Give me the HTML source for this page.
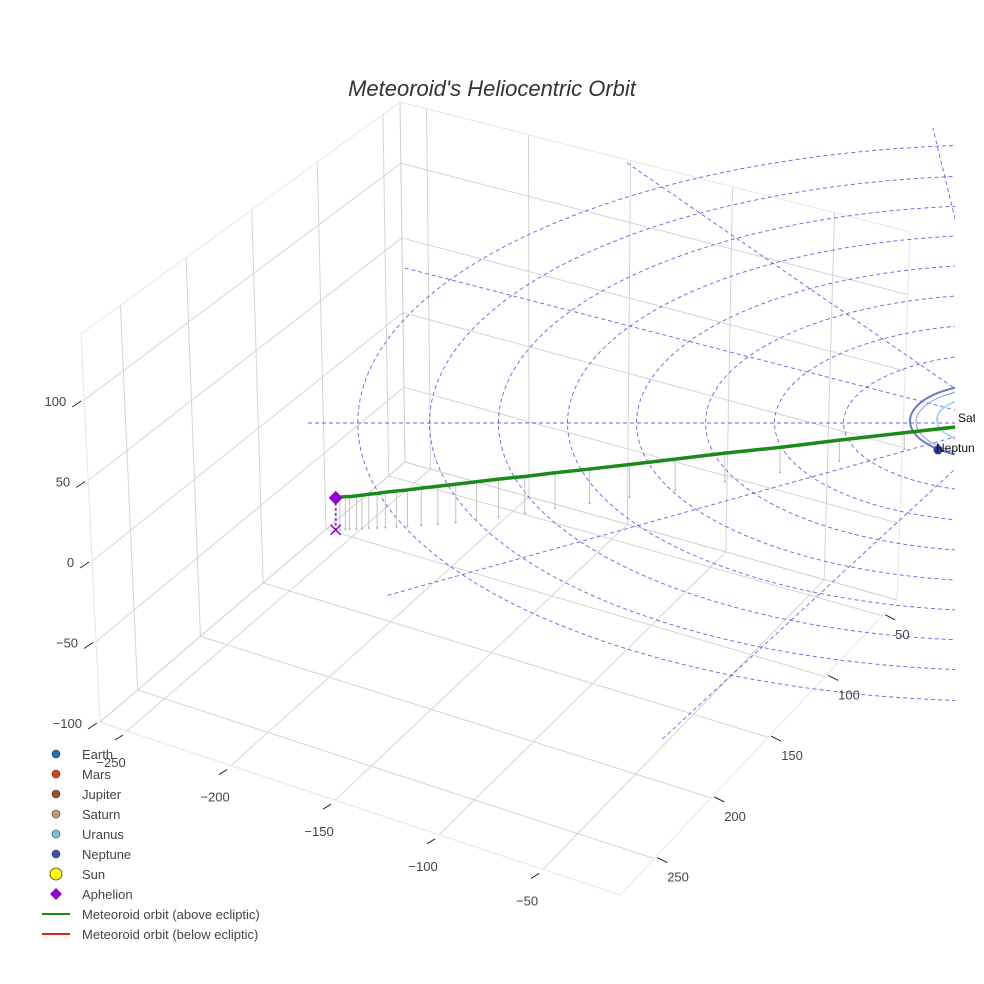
<!DOCTYPE html>
<html><head><meta charset="utf-8"><style>
html,body{margin:0;padding:0;background:#fff;}
svg{display:block;font-family:"Liberation Sans",sans-serif;}
</style></head><body>
<svg id="chart" width="984" height="984" viewBox="0 0 984 984" xmlns="http://www.w3.org/2000/svg">
<defs><clipPath id="sceneClip"><rect x="0" y="60" width="955" height="860"/></clipPath>
<clipPath id="labelClip"><rect x="0" y="0" width="975" height="984"/></clipPath></defs>
<rect width="984" height="984" fill="#fff"/>
<text x="492" y="96" text-anchor="middle" font-size="22" font-style="italic" fill="#333">Meteoroid's Heliocentric Orbit</text>
<g id="grid"></g>
<g id="rings" clip-path="url(#sceneClip)"></g>
<g id="planets" clip-path="url(#sceneClip)"></g>
<g id="orbit" clip-path="url(#sceneClip)"></g>
<g id="ticks"></g>
<g id="legend"></g>
</svg>
<script>
// axis tick values
const xTicks = [50, 100, 150, 200, 250];
const yTicks = [-250, -200, -150, -100, -50];
const zTicks = [-100, -50, 0, 50, 100];
// ecliptic reference ring radii (AU-like units)
const ringRadii = [117, 167, 217, 267, 317, 367, 417, 469];
// ecliptic reference spokes: angle (deg) and length
const spokeAngles = [0, -31, -58, -84, 33, 65];
const spokeLengths = [505, 509, 520, 500, 535, 589];
// meteoroid orbit points (ecliptic frame): ex, ey, ez
const orbitEx = [485, 482, 478, 475, 470, 466, 461, 455, 449, 441, 433, 423, 411, 398, 383, 367, 348, 326, 301, 272, 239, 203, 163, 120, 73, 36];
const orbitEy = [180, 180, 179, 179, 179, 178, 177, 177, 176, 175, 174, 172, 170, 167, 165, 158, 152, 143, 135, 125, 113, 99, 83, 64, 44, 27];
const orbitEz = [21.3, 21.7, 21.7, 21.7, 22.2, 22.3, 22.5, 23.1, 23.5, 23.9, 24.2, 24.6, 25.1, 25.2, 26.1, 25.1, 24.5, 23.4, 22.7, 21.8, 20.6, 19.1, 16.6, 13.9, 10.9, 8];
// legend entries
const legendNames = ["Earth","Mars","Jupiter","Saturn","Uranus","Neptune","Sun","Aphelion","Meteoroid orbit (above ecliptic)","Meteoroid orbit (below ecliptic)"];
const legendColors = ["#1f6fb0","#d2441a","#a0522d","#c49a6c","#7fc4dc","#3f50a8","#ffff00","#9400d3","#1a8a1a","#e02020"];

const NS = "http://www.w3.org/2000/svg";
function mk(tag, attrs, parent){const e=document.createElementNS(NS,tag);for(const k in attrs)e.setAttribute(k,attrs[k]);parent.appendChild(e);return e;}

// 3D box projection (trilinear between projected corners)
const XR=[280,37], YR=[-263,-13], ZR=[-100,141];
const C={"000":[100,722],"100":[620,895],"110":[897,600],"010":[405,462],
         "001":[81,334],"101":[615,485],"111":[910,232],"011":[400,102]};
function P(x,y,z){
  const u=(y-YR[0])/(YR[1]-YR[0]), v=(x-XR[0])/(XR[1]-XR[0]), w=(z-ZR[0])/(ZR[1]-ZR[0]);
  let sx=0, sy=0;
  for(const a of [0,1])for(const b of [0,1])for(const c of [0,1]){
    const wt=(a?u:1-u)*(b?v:1-v)*(c?w:1-w); const p=C[""+a+b+c];
    sx+=wt*p[0]; sy+=wt*p[1];}
  return [sx,sy];
}
// ecliptic frame projection
const EC={cx:1005, cy:423, s:1.38, k:0.43, zs:1.5};
function E(ex,ey,ez){return [EC.cx-EC.s*ex, EC.cy+EC.s*EC.k*ey-EC.zs*ez];}

const grid=document.getElementById('grid');
function gline(a,b,name,col){const l=mk('line',{x1:a[0],y1:a[1],x2:b[0],y2:b[1],stroke:col||'#d4d4d4','stroke-width':1},grid);
  
  }
for(const xv of xTicks) gline(P(xv,YR[0],ZR[0]),P(xv,YR[1],ZR[0]),'floor-gridline-x');
for(const yv of yTicks) gline(P(XR[0],yv,ZR[0]),P(XR[1],yv,ZR[0]),'floor-gridline-y');
for(const xv of xTicks) gline(P(xv,YR[0],ZR[0]),P(xv,YR[0],ZR[1]),'left-wall-gridline-x');
for(const zv of zTicks.slice(1)) gline(P(XR[0],YR[0],zv),P(XR[1],YR[0],zv),'left-wall-gridline-z');
for(const yv of yTicks) gline(P(XR[1],yv,ZR[0]),P(XR[1],yv,ZR[1]),'back-wall-gridline-y');
for(const zv of zTicks.slice(1)) gline(P(XR[1],YR[0],zv),P(XR[1],YR[1],zv),'back-wall-gridline-z');
const ec='#e6e6e6';
gline(P(XR[0],YR[0],ZR[0]),P(XR[0],YR[1],ZR[0]),'box-edge',ec);
gline(P(XR[0],YR[1],ZR[0]),P(XR[1],YR[1],ZR[0]),'box-edge',ec);
gline(P(XR[0],YR[0],ZR[0]),P(XR[0],YR[0],ZR[1]),'box-edge',ec);
gline(P(XR[1],YR[0],ZR[0]),P(XR[1],YR[0],ZR[1]),'box-edge','#cccccc');
gline(P(XR[1],YR[1],ZR[0]),P(XR[1],YR[1],ZR[1]),'box-edge',ec);
gline(P(XR[0],YR[0],ZR[1]),P(XR[1],YR[0],ZR[1]),'box-edge',ec);
gline(P(XR[1],YR[0],ZR[1]),P(XR[1],YR[1],ZR[1]),'box-edge',ec);
gline(P(XR[0],YR[0],ZR[0]),P(XR[1],YR[0],ZR[0]),'box-edge','#cccccc');
gline(P(XR[1],YR[0],ZR[0]),P(XR[1],YR[1],ZR[0]),'box-edge','#cccccc');

const rings=document.getElementById('rings');
for(const r of ringRadii){
  const e=mk('ellipse',{cx:EC.cx,cy:EC.cy,rx:EC.s*r,ry:EC.s*EC.k*r,fill:'none',stroke:'#4848e8','stroke-width':0.9,'stroke-dasharray':'4,3',opacity:0.85},rings);
  
  
}
spokeAngles.forEach((a,i)=>{
  const t=a*Math.PI/180, L=spokeLengths[i];
  const p=E(L*Math.cos(t),L*Math.sin(t),0);
  const l=mk('line',{x1:EC.cx,y1:EC.cy,x2:p[0],y2:p[1],stroke:'#4848e8','stroke-width':0.9,'stroke-dasharray':'4,3',opacity:0.85},rings);
  
  
});

const pl=document.getElementById('planets');
const nep1=mk('ellipse',{cx:990,cy:421,rx:80,ry:37,fill:'none',stroke:'#6a78c4','stroke-width':2},pl);


const nep2=mk('ellipse',{cx:992,cy:422,rx:76,ry:34,fill:'none',stroke:'#8d98d4','stroke-width':1},pl);


const sat=mk('ellipse',{cx:978,cy:420,rx:41,ry:22,fill:'none',stroke:'#a8dcea','stroke-width':2},pl);


const nepDot=mk('circle',{cx:938,cy:450,r:4.5,fill:'#2d3c94'},pl);


const lab=document.createElementNS(NS,'g');lab.setAttribute('clip-path','url(#labelClip)');document.getElementById('chart').appendChild(lab);
const t1=mk('text',{x:936,y:452,'font-size':12,fill:'#111'},lab);t1.textContent='Neptune';


const t2=mk('text',{x:958,y:422,'font-size':12,fill:'#111'},lab);t2.textContent='Saturn';



const og=document.getElementById('orbit');
for(let i=1;i<orbitEx.length;i++){
  const top=E(orbitEx[i],orbitEy[i],orbitEz[i]), bot=E(orbitEx[i],orbitEy[i],0);
  const l=mk('line',{x1:top[0],y1:top[1],x2:bot[0],y2:bot[1],stroke:'#c4c4c4','stroke-width':1},og);
  
  
  const d=mk('circle',{cx:bot[0],cy:bot[1],r:1,fill:'#aaaaaa'},og);
  
  
}
const pts=orbitEx.map((x,i)=>E(x,orbitEy[i],orbitEz[i]).join(',')).join(' ');
const ol=mk('polyline',{points:pts,fill:'none',stroke:'#1a8a1a','stroke-width':3.5,'stroke-linejoin':'round'},og);


const ap=E(orbitEx[0],orbitEy[0],orbitEz[0]), apg=E(orbitEx[0],orbitEy[0],0);
const apl=mk('line',{x1:ap[0],y1:ap[1],x2:apg[0],y2:apg[1],stroke:'#9a40c0','stroke-width':2,'stroke-dasharray':'3,2'},og);


const apx=mk('path',{d:`M${apg[0]-5},${apg[1]-5}L${apg[0]+5},${apg[1]+5}M${apg[0]+5},${apg[1]-5}L${apg[0]-5},${apg[1]+5}`,stroke:'#9400d3','stroke-width':1.5},og);


const apd=mk('path',{d:`M${ap[0]},${ap[1]-7}L${ap[0]+7},${ap[1]}L${ap[0]},${ap[1]+7}L${ap[0]-7},${ap[1]}Z`,fill:'#9400d3'},og);



const tk=document.getElementById('ticks');
function tick(p,dx,dy,label,lx,ly,anchor,name){
  const l=mk('line',{x1:p[0],y1:p[1],x2:p[0]+dx,y2:p[1]+dy,stroke:'#222','stroke-width':1},tk);
  
  
  const t=mk('text',{x:p[0]+lx,y:p[1]+ly,'font-size':13,fill:'#444','text-anchor':anchor},tk);
  t.textContent=label;
  
  
}
const fmt=v=>v<0?'\u2212'+(-v):''+v;
for(const z of zTicks){const p=P(XR[0],YR[0],z);tick([p[0]-3,p[1]+1],-9,6,fmt(z),-15,5,'end','z-axis');}
for(const y of yTicks){const p=P(XR[0],y,ZR[0]);tick([p[0]-4,p[1]+4],-8,5,fmt(y),-12,32,'middle','y-axis');}
for(const x of xTicks){const p=P(x,YR[1],ZR[0]);tick([p[0]+3,p[1]-1],10,5,fmt(x),10,24,'start','x-axis');}

const lg=document.getElementById('legend');
legendNames.forEach((n,i)=>{
  const y=754+i*20, c=legendColors[i];
  let m;
  if(i<6){m=mk('circle',{cx:56,cy:y,r:4,fill:c,stroke:'#333','stroke-width':0.6},lg);}
  else if(i===6){m=mk('circle',{cx:56,cy:y,r:6,fill:c,stroke:'#333','stroke-width':0.8},lg);}
  else if(i===7){m=mk('path',{d:`M56,${y-6}L62,${y}L56,${y+6}L50,${y}Z`,fill:c},lg);}
  else {m=mk('line',{x1:42,y1:y,x2:70,y2:y,stroke:c,'stroke-width':2},lg);}
  
  
  const t=mk('text',{x:82,y:y+5,'font-size':13,fill:'#444'},lg);
  t.textContent=n;
  
  
});
</script>
</body></html>
